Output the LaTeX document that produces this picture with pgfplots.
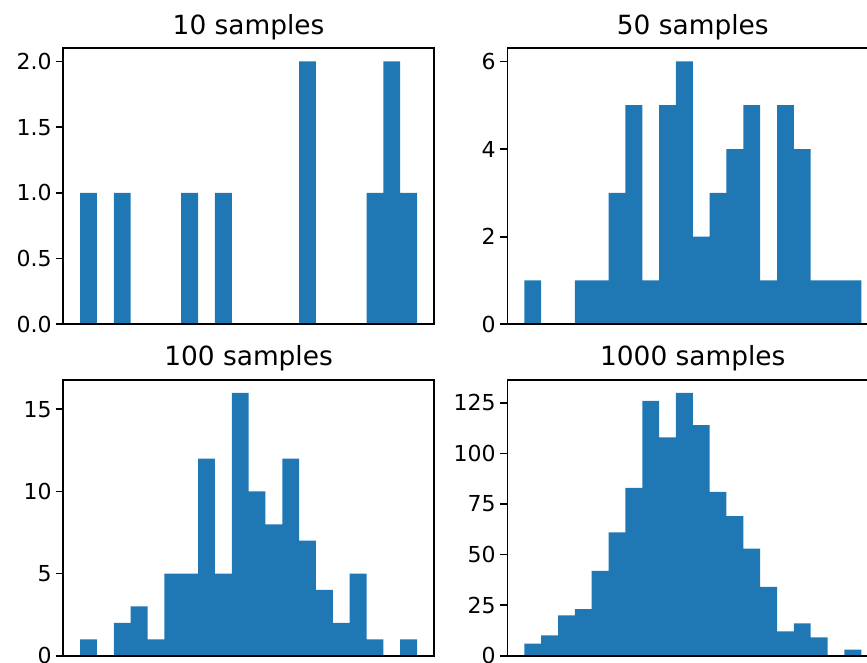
\documentclass[border=0pt]{standalone}
\usepackage{fontspec}
\setmainfont{DejaVu Sans}
\usepackage{pgfplots}
\pgfplotsset{compat=1.18}
\usepgfplotslibrary{groupplots}
\definecolor{mplblue}{HTML}{1F77B4}
\newcommand{\tickfont}{\fontsize{11}{13}\selectfont}

\begin{document}
\begin{tikzpicture}
\begin{groupplot}[
    group style={group size=2 by 2, horizontal sep=36.8pt, vertical sep=27.7pt},
    width=185.3pt, height=138pt, scale only axis,
    xmin=-1, xmax=21, ymin=0,
    xtick=\empty, ytick pos=left,
    tick align=outside, major tick length=3.85pt,
    every tick/.style={black, line width=0.88pt},
    axis line style={line width=0.88pt},
    axis on top,
    yticklabel={\tickfont\pgfmathprintnumber[assume math mode=true]{\tick}},
    yticklabel style={xshift=1.5pt},
    title style={font=\fontsize{13.2}{15}\selectfont, at={(0.5,1)}, anchor=base, yshift=1pt},
]
% 10 samples
\nextgroupplot[title={10 samples}, ymax=2.1, ytick={0,0.5,1,1.5,2},
    yticklabel={\tickfont\pgfmathprintnumber[assume math mode=true, fixed, fixed zerofill, precision=1]{\tick}}]
\addplot[ybar interval, fill=mplblue, draw=none] coordinates {
    (0,1) (1,0) (2,1) (3,0) (4,0) (5,0) (6,1) (7,0) (8,1) (9,0)
    (10,0) (11,0) (12,0) (13,2) (14,0) (15,0) (16,0) (17,1) (18,2) (19,1) (20,1)
};
% 50 samples
\nextgroupplot[title={50 samples}, ymax=6.3, ytick={0,2,4,6}]
\addplot[ybar interval, fill=mplblue, draw=none] coordinates {
    (0,1) (1,0) (2,0) (3,1) (4,1) (5,3) (6,5) (7,1) (8,5) (9,6)
    (10,2) (11,3) (12,4) (13,5) (14,1) (15,5) (16,4) (17,1) (18,1) (19,1) (20,1)
};
% 100 samples
\nextgroupplot[title={100 samples}, ymax=16.8, ytick={0,5,10,15}]
\addplot[ybar interval, fill=mplblue, draw=none] coordinates {
    (0,1) (1,0) (2,2) (3,3) (4,1) (5,5) (6,5) (7,12) (8,5) (9,16)
    (10,10) (11,8) (12,12) (13,7) (14,4) (15,2) (16,5) (17,1) (18,0) (19,1) (20,1)
};
% 1000 samples
\nextgroupplot[title={1000 samples}, ymax=136.5, ytick={0,25,50,75,100,125}]
\addplot[ybar interval, fill=mplblue, draw=none] coordinates {
    (0,6) (1,10) (2,20) (3,23) (4,42) (5,61) (6,83) (7,126) (8,108) (9,130)
    (10,114) (11,81) (12,69) (13,53) (14,34) (15,12) (16,16) (17,9) (18,0) (19,3) (20,3)
};
\end{groupplot}
% crop the page like the reference
\pgfresetboundingbox
\path (group c1r1.north west) ++(-31.65pt,24.15pt) rectangle ++(433.5pt,-331.5pt);
\end{tikzpicture}
\end{document}
